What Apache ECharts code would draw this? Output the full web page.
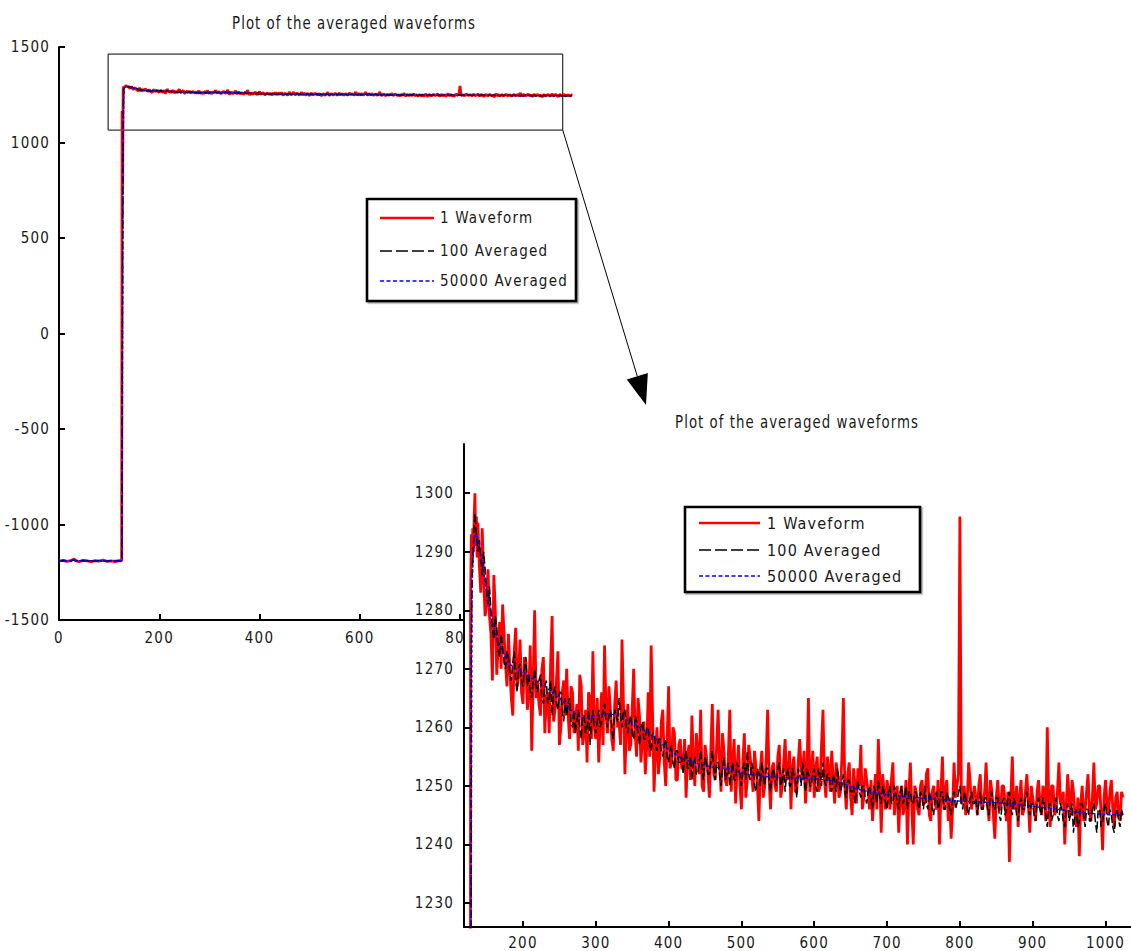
<!DOCTYPE html>
<html><head><meta charset="utf-8">
<script src="https://cdn.jsdelivr.net/npm/echarts@6/dist/echarts.min.js"></script>
<style>
html,body{margin:0;padding:0;background:#fff;}
#chart{width:1131px;height:951px;}
#chart text{letter-spacing:1.2px;}
</style></head><body><div id="chart"></div>
<script>
// ---------------- data ----------------
const titleText = 'Plot of the averaged waveforms';
const seriesNames = ['1 Waveform', '100 Averaged', '50000 Averaged'];
const insetXTicks = [200, 300, 400, 500, 600, 700, 800, 900, 1000];
const insetYTicks = [1230, 1240, 1250, 1260, 1270, 1280, 1290, 1300];

// regular sampling of the tail (sample index of first value, spacing)
const sampleStart = 140, sampleStep = 2;

// 1 Waveform (red)
const redHeadX = [0, 8, 16, 24, 30, 34, 40, 48, 56, 64, 72, 80, 88, 96, 104, 112, 120, 125, 126, 127, 128, 129, 130, 131, 132, 133, 134, 135, 136, 137, 138];
const redHeadY = [-1192, -1188, -1193, -1189, -1181, -1191, -1194, -1188, -1191, -1195, -1189, -1192, -1187, -1193, -1190, -1194, -1189, -1191, 1165, 770, 1281, 1293, 1288, 1294, 1290, 1296, 1300, 1291, 1296, 1289, 1295];
const redTailY = [
  1288,1283, 1294,1285, 1279,1281, 1287,1279, 1276,1268, 1286,1280, 1269,1274, 1278,1270, 1281,1276, 1271,1267,
  1276,1270, 1265,1262, 1273,1277, 1267,1269, 1275,1266, 1264,1272, 1271,1263, 1266,1274, 1256,1268, 1280,1265,
  1268,1264, 1262,1270, 1272,1259, 1265,1266, 1259,1271, 1279,1261, 1263,1268, 1273,1257, 1260,1266, 1268,1262,
  1270,1262, 1258,1267, 1266,1259, 1261,1264, 1256,1269, 1267,1257, 1259,1263, 1254,1266, 1265,1258, 1273,1260,
  1258,1265, 1254,1261, 1266,1257, 1274,1263, 1259,1267, 1263,1258, 1256,1264, 1268,1260, 1261,1257, 1275,1264,
  1252,1260, 1264,1256, 1257,1263, 1270,1259, 1255,1265, 1262,1254, 1258,1261, 1252,1257, 1266,1255, 1274,1262,
  1249,1256, 1260,1252, 1255,1261, 1263,1254, 1250,1258, 1267,1253, 1254,1260, 1259,1251, 1251,1257, 1258,1253,
  1253,1258, 1248,1255, 1257,1251, 1262,1254, 1250,1259, 1256,1252, 1263,1250, 1249,1257, 1255,1252, 1248,1256,
  1264,1252, 1251,1257, 1263,1254, 1249,1259, 1256,1251, 1250,1255, 1263,1249, 1254,1258, 1247,1253, 1257,1250,
  1246,1254, 1259,1248, 1251,1257, 1255,1252, 1249,1256, 1253,1250, 1244,1253, 1256,1248, 1250,1255, 1263,1251,
  1246,1253, 1254,1250, 1249,1255, 1257,1248, 1250,1254, 1258,1251, 1252,1256, 1246,1253, 1255,1249, 1249,1254,
  1258,1253, 1251,1256, 1247,1252, 1265,1249, 1252,1256, 1248,1253, 1255,1249, 1250,1257, 1263,1251, 1248,1255,
  1253,1249, 1256,1251, 1247,1254, 1252,1248, 1249,1255, 1265,1250, 1246,1252, 1254,1248, 1245,1253, 1250,1247,
  1253,1250, 1257,1246, 1248,1253, 1251,1249, 1246,1251, 1244,1248, 1252,1246, 1258,1251, 1242,1252, 1249,1246,
  1251,1249, 1246,1251, 1254,1245, 1248,1250, 1242,1248, 1250,1245, 1247,1251, 1240,1249, 1254,1246, 1240,1250,
  1249,1246, 1245,1250, 1251,1247, 1247,1252, 1253,1245, 1244,1249, 1250,1247, 1246,1251, 1240,1249, 1255,1246,
  1249,1251, 1244,1248, 1241,1246, 1254,1248, 1250,1252, 1296,1247, 1248,1250, 1245,1247, 1254,1251, 1246,1248,
  1250,1248, 1245,1250, 1252,1246, 1247,1249, 1254,1247, 1244,1251, 1249,1245, 1241,1248, 1251,1246, 1246,1250,
  1250,1247, 1244,1249, 1237,1248, 1255,1246, 1247,1250, 1243,1248, 1251,1245, 1246,1249, 1252,1247, 1242,1250,
  1248,1246, 1244,1249, 1251,1247, 1245,1250, 1249,1244, 1260,1248, 1243,1250, 1250,1245, 1246,1249, 1254,1247,
  1247,1249, 1240,1246, 1252,1248, 1245,1251, 1249,1245, 1243,1248, 1238,1247, 1250,1244, 1246,1249, 1252,1246,
  1244,1248, 1254,1246, 1247,1250, 1250,1245, 1239,1248, 1251,1247, 1245,1249, 1251,1246, 1243,1248, 1249,1245,
  1244,1249, 1248
];

// 100 Averaged (black)
const blackHeadX = [0, 10, 20, 30, 40, 50, 60, 70, 80, 90, 100, 110, 120, 125, 126, 127, 128, 129, 130, 131, 132, 133, 134, 136, 138];
const blackHeadY = [-1191, -1189, -1190, -1186, -1191, -1189, -1190, -1192, -1189, -1190, -1191, -1189, -1190, -1190, -1190, 420, 1120, 1272, 1284, 1289, 1291, 1294, 1296.5, 1293, 1290];
const blackTailY = [
  1292,1289, 1286,1290, 1287,1283, 1281,1284, 1280,1277, 1275,1279, 1277,1273, 1272,1276, 1274,1271, 1270,1273,
  1272,1269, 1268,1271, 1273,1268, 1266,1270, 1271,1268, 1267,1270, 1272,1267, 1269,1266, 1265,1268, 1270,1267,
  1266,1268, 1269,1265, 1264,1267, 1268,1264, 1265,1268, 1262,1266, 1267,1264, 1263,1266, 1266,1263, 1261,1265,
  1262,1264, 1265,1261, 1260,1263, 1259,1261, 1263,1260, 1258,1262, 1262,1259, 1260,1263, 1257,1261, 1263,1260,
  1259,1261, 1263,1260, 1261,1263, 1264,1261, 1260,1262, 1263,1260, 1258,1263, 1262,1261, 1265,1262, 1260,1263,
  1263,1260, 1259,1261, 1262,1259, 1258,1262, 1261,1259, 1257,1260, 1261,1258, 1258,1260, 1260,1257, 1256,1259,
  1259,1257, 1256,1258, 1258,1256, 1255,1257, 1258,1255, 1254,1256, 1257,1254, 1253,1256, 1256,1254, 1254,1255,
  1252,1255, 1256,1253, 1253,1255, 1251,1254, 1255,1252, 1252,1254, 1256,1253, 1251,1255, 1254,1252, 1252,1254,
  1256,1253, 1251,1254, 1254,1252, 1250,1253, 1255,1251, 1252,1254, 1250,1252, 1254,1251, 1251,1254, 1253,1252,
  1250,1253, 1254,1251, 1256,1252, 1251,1254, 1253,1250, 1249,1253, 1252,1250, 1254,1252, 1250,1253, 1253,1251,
  1249,1252, 1253,1251, 1250,1253, 1254,1250, 1251,1253, 1249,1252, 1253,1250, 1250,1253, 1252,1251, 1248,1253,
  1252,1250, 1254,1251, 1249,1253, 1252,1250, 1250,1252, 1253,1250, 1249,1253, 1252,1250, 1254,1251, 1250,1252,
  1252,1250, 1249,1252, 1251,1249, 1253,1251, 1249,1250, 1252,1249, 1248,1251, 1251,1249, 1249,1250, 1247,1249,
  1251,1249, 1248,1250, 1250,1248, 1247,1249, 1250,1248, 1246,1250, 1249,1247, 1251,1248, 1247,1250, 1249,1247,
  1246,1249, 1250,1247, 1247,1250, 1249,1247, 1246,1249, 1250,1247, 1248,1250, 1246,1249, 1249,1247, 1247,1249,
  1249,1247, 1246,1249, 1248,1246, 1250,1247, 1246,1249, 1248,1246, 1245,1248, 1249,1246, 1247,1249, 1249,1246,
  1246,1249, 1248,1246, 1245,1248, 1249,1246, 1247,1249, 1250,1247, 1246,1249, 1248,1246, 1245,1248, 1249,1247,
  1247,1248, 1245,1247, 1249,1246, 1246,1248, 1248,1246, 1245,1248, 1249,1246, 1246,1248, 1248,1245, 1244,1247,
  1248,1245, 1246,1248, 1249,1246, 1245,1248, 1247,1245, 1244,1247, 1248,1246, 1246,1248, 1249,1246, 1245,1247,
  1247,1245, 1244,1247, 1248,1246, 1245,1248, 1247,1245, 1243,1247, 1247,1244, 1245,1247, 1248,1245, 1244,1247,
  1246,1244, 1243,1246, 1247,1244, 1245,1247, 1242,1245, 1246,1243, 1244,1247, 1247,1245, 1243,1246, 1246,1244,
  1244,1246, 1247,1244, 1242,1246, 1246,1243, 1244,1246, 1247,1244, 1243,1246, 1245,1243, 1242,1245, 1246,1244,
  1243,1246, 1245
];

// 50000 Averaged (blue)
const blueX = [0, 126, 127, 128, 129, 130, 132, 134, 137, 140, 145, 150, 155, 160, 165, 170, 180, 190, 200, 210, 220, 230, 240, 250, 260, 270, 280, 290, 300, 310, 320, 330, 340, 350, 360, 370, 380, 390, 400, 410, 420, 430, 440, 450, 460, 470, 480, 490, 500, 520, 540, 560, 580, 600, 620, 640, 660, 680, 700, 720, 740, 760, 780, 800, 820, 840, 860, 880, 900, 920, 940, 960, 980, 1000, 1024];
const blueY = [-1190, -1190, 350, 1000, 1230, 1284, 1290, 1293, 1292.5, 1291, 1287, 1283.5, 1280, 1277, 1275, 1273.5, 1271, 1270, 1269.5, 1268.5, 1267.8, 1267, 1266, 1265, 1263.8, 1262.5, 1261.7, 1261.6, 1262, 1262.3, 1262.3, 1262, 1261.5, 1260.8, 1260, 1259.2, 1258.3, 1257.2, 1256.2, 1255.3, 1254.6, 1254.2, 1253.8, 1253.5, 1253.2, 1253.1, 1253, 1252.6, 1252.2, 1251.8, 1251.5, 1251.4, 1251.3, 1251.2, 1251, 1250.4, 1249.4, 1248.9, 1248.5, 1248.2, 1248, 1247.8, 1247.6, 1247.4, 1247.3, 1247.2, 1247, 1246.8, 1246.5, 1246.2, 1245.9, 1245.5, 1245.3, 1245.1, 1245];

// zoom box drawn on the main plot (data coordinates)
const zoomBox = [[98, 1463], [1005, 1065]];

// ---------------- build ----------------
function pairs(xs, ys) { return xs.map((x, i) => [x, ys[i]]); }
function tail(ys) { return ys.map((y, i) => [sampleStart + i * sampleStep, y]); }
const byX = (a, b) => a[0] - b[0];
const redData = pairs(redHeadX, redHeadY).concat(tail(redTailY)).sort(byX);
const blackData = pairs(blackHeadX, blackHeadY).concat(tail(blackTailY)).sort(byX);
const blueData = pairs(blueX, blueY);

const FONT = "'Liberation Sans Narrow','DejaVu Sans Condensed','DejaVu Sans',sans-serif";
const FS = 15;
const TXT = '#1a1a1a';

const styles = [
  { color: '#ff0000', width: 2.8, type: 'solid' },
  { color: '#000000', width: 1.5, type: [8, 3] },
  { color: '#0000ff', width: 1.4, type: [3, 2] }
];
const datas = [redData, blackData, blueData];

function axisCommon() {
  return {
    axisLine: { show: true, onZero: false, lineStyle: { color: '#000', width: 2 } },
    axisTick: { show: true, inside: true, length: 6, lineStyle: { color: '#000', width: 2 } },
    splitLine: { show: false },
    axisLabel: { color: TXT, fontSize: FS, fontFamily: FONT, formatter: v => String(v) }
  };
}

const series = [];
[0, 1].forEach(g => {
  datas.forEach((d, k) => {
    const s = {
      name: seriesNames[k], type: 'line', data: d,
      xAxisIndex: g, yAxisIndex: g,
      symbol: 'none', showSymbol: false, animation: false, silent: true,
      lineStyle: { color: styles[k].color, width: styles[k].width, type: styles[k].type },
      z: g === 0 ? 2 + k : 11 + k * 0.1,
      clip: true
    };
    if (g === 0 && k === 0) {
      s.markArea = {
        silent: true,
        itemStyle: { color: 'rgba(0,0,0,0)', borderColor: '#000', borderWidth: 1 },
        label: { show: false },
        data: [[{ coord: zoomBox[0] }, { coord: zoomBox[1] }]]
      };
    }
    series.push(s);
  });
});

const x0 = axisCommon(); Object.assign(x0, { type: 'value', gridIndex: 0, min: 0, max: 1200, interval: 200 });
x0.axisLabel = Object.assign({}, x0.axisLabel, { margin: 10 });
const y0 = axisCommon(); Object.assign(y0, { type: 'value', gridIndex: 0, min: -1500, max: 1500, interval: 500 });
y0.axisLabel = Object.assign({}, y0.axisLabel, { margin: 9 });

const x1 = axisCommon(); Object.assign(x1, { type: 'value', gridIndex: 1, min: 119, max: 1035, z: 13 });
x1.axisTick = Object.assign({}, x1.axisTick, { customValues: insetXTicks });
x1.axisLabel = Object.assign({}, x1.axisLabel, { customValues: insetXTicks, margin: 8 });
const y1 = axisCommon(); Object.assign(y1, { type: 'value', gridIndex: 1, min: 1225.9, max: 1308.4, z: 13 });
y1.axisTick = Object.assign({}, y1.axisTick, { customValues: insetYTicks });
y1.axisLabel = Object.assign({}, y1.axisLabel, { customValues: insetYTicks, margin: 10 });

const chart = echarts.init(document.getElementById('chart'), null, { renderer: 'svg' });
chart.setOption({
  animation: false,
  backgroundColor: '#fff',
  grid: [
    { left: 59, top: 47, width: 601.5, height: 573, containLabel: false },
    { left: 464, top: 444, width: 667, height: 483, show: true, backgroundColor: '#fff', borderWidth: 0, z: 10, containLabel: false }
  ],
  xAxis: [x0, x1],
  yAxis: [y0, y1],
  series: series
});

// ---------------- annotations ----------------
function txt(id, x, y, text, align, size, sx) {
  return { type: 'text', id, x, y, z: 30, scaleX: sx || 1,
    style: { text, fill: TXT, font: size + 'px ' + FONT, align: align, textAlign: align, verticalAlign: 'middle', textVerticalAlign: 'middle' } };
}
function seg(id, x1, y1, x2, y2, st) {
  return { type: 'line', id, z: 30, shape: { x1, y1, x2, y2 },
    style: { stroke: st.color, lineWidth: st.lw, lineDash: st.dash || null } };
}
function legend(prefix, box, lx1, lx2, tx, rows, size) {
  const els = [{ type: 'rect', id: prefix + 'box', z: 29, shape: box,
    style: { fill: '#fff', stroke: '#000', lineWidth: 2.6, shadowColor: 'rgba(0,0,0,0.35)', shadowOffsetX: 1.5, shadowOffsetY: 1.5, shadowBlur: 1 } }];
  const ls = [
    { color: '#ff0000', lw: 2.6 },
    { color: '#000', lw: 1.4, dash: [12, 4] },
    { color: '#0000ff', lw: 1.4, dash: [4, 2.5] }
  ];
  rows.forEach((ry, k) => {
    els.push(seg(prefix + 'l' + k, lx1, ry, lx2, ry, ls[k]));
    els.push(txt(prefix + 't' + k, tx, ry, seriesNames[k], 'left', size, 1));
  });
  return els;
}

const start = chart.convertToPixel({ gridIndex: 0 }, zoomBox[1]);
const tip = [646, 405];
const dx = tip[0] - start[0], dy = tip[1] - start[1];
const len = Math.sqrt(dx * dx + dy * dy);
const ux = dx / len, uy = dy / len;
const headL = 30, headW = 11;
const base = [tip[0] - ux * headL, tip[1] - uy * headL];

const elements = [
  txt('t_main', 354, 23, titleText, 'center', 17, 0.87),
  txt('t_inset', 797, 422, titleText, 'center', 17, 0.87),
  { type: 'line', id: 'arrowLine', z: 30, shape: { x1: start[0], y1: start[1], x2: base[0], y2: base[1] },
    style: { stroke: '#000', lineWidth: 1 } },
  { type: 'polygon', id: 'arrowHead', z: 30,
    shape: { points: [tip, [base[0] + uy * headW, base[1] - ux * headW], [base[0] - uy * headW, base[1] + ux * headW]] },
    style: { fill: '#000' } }
].concat(
  legend('m', { x: 367, y: 199, width: 209, height: 102 }, 380, 434, 440, [218, 251, 281], 15),
  legend('i', { x: 685, y: 507, width: 235, height: 85 }, 699, 760, 767, [523, 550, 576], 16)
);
chart.setOption({ graphic: { elements } });
</script></body></html>
